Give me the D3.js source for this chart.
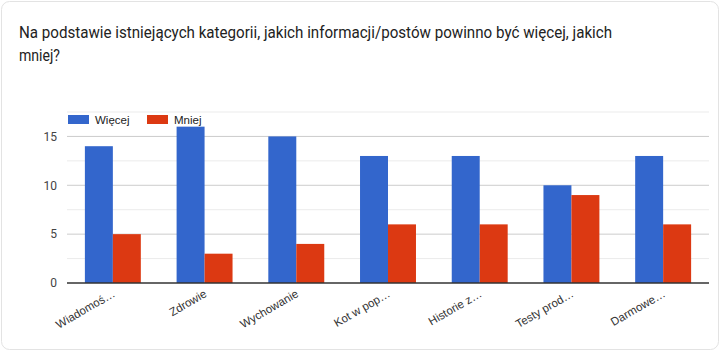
<!DOCTYPE html>
<html>
<head>
<meta charset="utf-8">
<script src="https://cdn.jsdelivr.net/npm/d3@7"></script>
<style>
  html, body { margin: 0; padding: 0; background: #fff; }
  body { width: 720px; height: 351px; overflow: hidden; font-family: Roboto, Arial, sans-serif; }
</style>
</head>
<body>
<div id="chart"></div>
<script>
const categories = ['Wiadomoś…', 'Zdrowie', 'Wychowanie', 'Kot w pop…', 'Historie z…', 'Testy prod…', 'Darmowe…'];
const seriesNames = ['Więcej', 'Mniej'];
const wiecej = [14, 16, 15, 13, 13, 10, 13];
const mniej = [5, 3, 4, 6, 6, 9, 6];
const yTicks = [0, 5, 10, 15];
const colors = ['#3366cc', '#dc3912'];

const width = 720;
const height = 351;
const margin = { top: 112, right: 11, bottom: 68, left: 67 };

const svg = d3.select('#chart').append('svg')
  .attr('width', width).attr('height', height);

// card
svg.append('rect')
  .attr('x', 1.5).attr('y', 1.5)
  .attr('width', width - 3).attr('height', height - 3)
  .attr('rx', 8)
  .attr('fill', '#fff')
  .attr('stroke', '#e3e3e3');

const title = svg.append('text')
  .attr('x', 19).attr('y', 38)
  .attr('font-family', 'Roboto, Arial, sans-serif')
  .attr('font-size', 16)
  .attr('fill', '#222');
title.append('tspan').attr('x', 19)
  .attr('textLength', 593).attr('lengthAdjust', 'spacingAndGlyphs')
  .text('Na podstawie istniejących kategorii, jakich informacji/postów powinno być więcej, jakich');
title.append('tspan').attr('x', 19).attr('dy', 23)
  .attr('textLength', 41).attr('lengthAdjust', 'spacingAndGlyphs')
  .text('mniej?');

const x0 = d3.scaleBand().domain(categories)
  .range([margin.left, width - margin.right])
  .paddingInner(0.39).paddingOuter(0.195);
const x1 = d3.scaleBand().domain(seriesNames).range([0, x0.bandwidth()]);
const y = d3.scaleLinear().domain([0, 17.5]).range([height - margin.bottom, margin.top]);

// gridlines
const minor = d3.range(2.5, 17.6, 5);
svg.append('g').selectAll('line').data(minor).join('line')
  .attr('x1', margin.left).attr('x2', width - margin.right)
  .attr('y1', (d) => y(d)).attr('y2', (d) => y(d))
  .attr('stroke', '#ebebeb').attr('stroke-width', 1);
svg.append('g').selectAll('line').data(yTicks.slice(1)).join('line')
  .attr('x1', margin.left).attr('x2', width - margin.right)
  .attr('y1', (d) => y(d)).attr('y2', (d) => y(d))
  .attr('stroke', '#cccccc').attr('stroke-width', 1);

// y labels
const yAxis = svg.append('g')
  .attr('transform', `translate(${margin.left - 10},0)`)
  .call(d3.axisLeft(y).tickValues(yTicks).tickSize(0).tickPadding(0));
yAxis.select('.domain').remove();
yAxis.selectAll('text')
  .attr('font-family', 'Roboto, Arial, sans-serif')
  .attr('font-size', 12)
  .attr('fill', '#444');

// bars
const rows = categories.map((c, i) => ({ cat: c, values: [wiecej[i], mniej[i]] }));
svg.append('g').selectAll('g').data(rows).join('g')
  .attr('transform', (d) => `translate(${x0(d.cat)},0)`)
  .selectAll('rect')
  .data((d) => d.values.map((v, j) => ({ key: seriesNames[j], v, j })))
  .join('rect')
  .attr('x', (d) => x1(d.key))
  .attr('y', (d) => y(d.v))
  .attr('width', x1.bandwidth())
  .attr('height', (d) => y(0) - y(d.v))
  .attr('fill', (d) => colors[d.j]);

// baseline
svg.append('line')
  .attr('x1', margin.left).attr('x2', width - margin.right)
  .attr('y1', y(0)).attr('y2', y(0))
  .attr('stroke', '#333').attr('stroke-width', 1.5);

// x labels
const xAxis = svg.append('g')
  .attr('transform', `translate(0,${y(0)})`)
  .call(d3.axisBottom(x0).tickSize(0).tickPadding(0));
xAxis.select('.domain').remove();
xAxis.selectAll('text')
  .attr('font-family', 'Arial, Liberation Sans, sans-serif')
  .attr('font-size', 11.5)
  .attr('fill', '#333')
  .attr('text-anchor', 'end')
  .attr('dy', 0)
  .attr('transform', 'translate(3,13) rotate(-30)');

// legend
const legend = svg.append('g').attr('transform', `translate(68,115)`);
const items = legend.selectAll('g').data(seriesNames).join('g')
  .attr('transform', (d, i) => `translate(${i * 79},0)`);
items.append('rect').attr('width', 21).attr('height', 9).attr('fill', (d, i) => colors[i]);
items.append('text')
  .attr('x', 27).attr('y', 8.5)
  .attr('font-family', 'Arial, Liberation Sans, sans-serif')
  .attr('font-size', 11.5)
  .attr('fill', '#222')
  .text((d) => d);
</script>
</body>
</html>
